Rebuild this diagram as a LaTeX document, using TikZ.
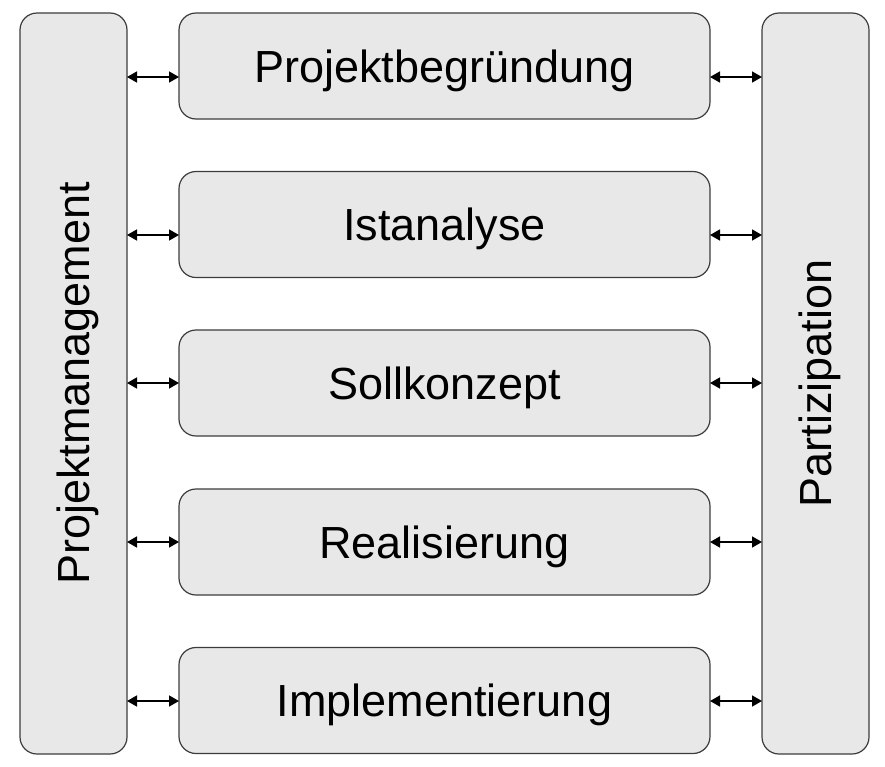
\documentclass[tikz,border=0pt]{standalone}
\usepackage{fontspec}
\setmainfont{Liberation Sans}
\usetikzlibrary{arrows.meta}
\definecolor{boxfill}{HTML}{E8E8E8}
\definecolor{boxline}{HTML}{3C3C3C}
\begin{document}
\begin{tikzpicture}[x=1pt,y=-1pt,
  lbl/.style={font=\fontsize{45}{52}\selectfont, text height=32pt, text depth=0pt, inner sep=0pt},
  box/.style={lbl, draw=boxline, fill=boxfill, line width=1.2pt, rounded corners=17pt,
    outer sep=0pt},
  rowbox/.style={box, minimum width=531pt, minimum height=106pt},
  barbox/.style={box, minimum width=107pt, minimum height=741pt},
  link/.style={draw=black, line width=1.5pt, {Triangle[length=10pt,width=11pt]}-{Triangle[length=10pt,width=11pt]}}]
\useasboundingbox (0,0) rectangle (885,766);
\node[barbox] (pm) at (73.5,383.5) {};
\node[lbl, rotate=90] (pmt) at (pm.center) {Projektmanagement};
\node[barbox] (pz) at (815.5,383.5) {};
\node[lbl, rotate=90] (pzt) at (pz.center) {Partizipation};
\node[rowbox] (r1) at (444.5,66) {Projektbegründung};
\node[rowbox] (r2) at (444.5,224.5) {Istanalyse};
\node[rowbox] (r3) at (444.5,383) {Sollkonzept};
\node[rowbox] (r4) at (444.5,542) {Realisierung};
\node[rowbox] (r5) at (444.5,700.5) {Implementierung};
\coordinate (a1) at (0,77);
\coordinate (a2) at (0,235);
\coordinate (a3) at (0,383);
\coordinate (a4) at (0,542);
\coordinate (a5) at (0,701);
\foreach \i in {1,...,5}{
  \draw[link] (pm.east |- a\i) -- (r\i.west |- a\i);
  \draw[link] (r\i.east |- a\i) -- (pz.west |- a\i);
}
\end{tikzpicture}
\end{document}
